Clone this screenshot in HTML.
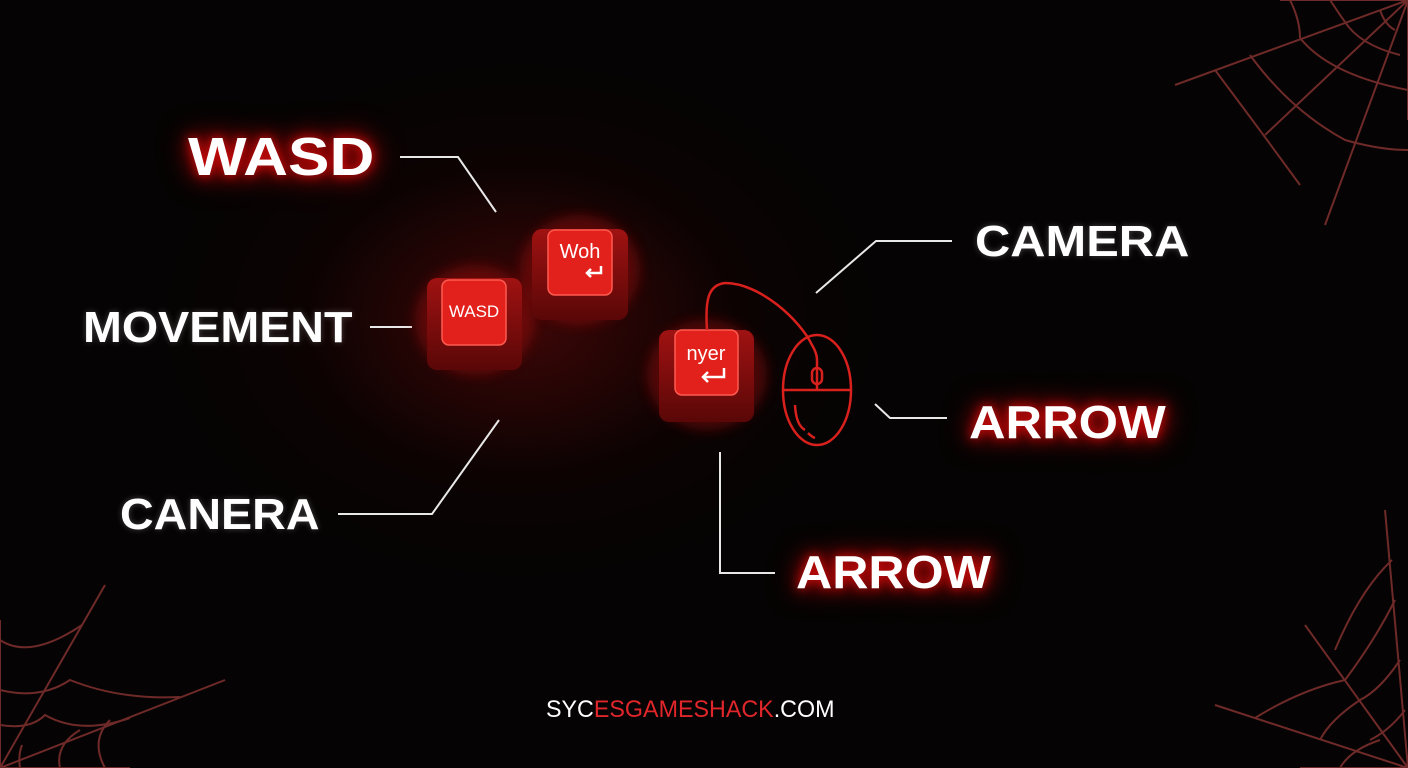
<!DOCTYPE html>
<html><head><style>
body{margin:0;width:1408px;height:768px;overflow:hidden;background:#050303;font-family:"Liberation Sans",sans-serif;}
#bg{position:absolute;left:0;top:0;width:1408px;height:768px;background:radial-gradient(ellipse 360px 260px at 520px 320px,rgba(110,10,10,0.55),rgba(40,0,0,0.2) 60%,rgba(0,0,0,0) 100%);}
.t{position:absolute;color:#fff;font-weight:bold;white-space:nowrap;line-height:1;transform-origin:0 50%;}
.g{text-shadow:0 0 10px #e01010,0 0 20px #b00000,0 0 30px #900000;}
.w{text-shadow:0 0 6px rgba(255,255,255,0.25);}
</style></head><body>
<div id="bg"></div>
<svg width="1408" height="768" style="position:absolute;left:0;top:0">
<defs>
<linearGradient id="kb" x1="0" y1="0" x2="0" y2="1"><stop offset="0" stop-color="#a01212"/><stop offset="1" stop-color="#5a0707"/></linearGradient>
<filter id="gl"><feGaussianBlur stdDeviation="6"/></filter>
</defs>
<g stroke="#6e2a28" stroke-width="2" fill="none">
<path d="M1408 0 L1175 85 M1408 0 L1265 135 M1408 0 L1325 225 M1408 0 L1280 0 M1408 0 L1408 120"/>
<path d="M1380 10 Q1385 25 1395 30 M1345 22 Q1360 45 1400 55 M1300 38 Q1330 75 1408 90 M1250 55 Q1290 110 1345 140 Q1380 150 1408 150 M1215 70 Q1260 130 1300 185 M1330 0 Q1340 15 1345 22 M1290 0 Q1300 20 1300 38"/>
<path d="M0 768 L105 585 M0 768 L225 680 M0 768 L0 620 M0 768 L130 768"/>
<path d="M0 640 Q30 660 82 625 M0 690 Q40 700 70 680 Q120 700 180 697 M0 725 Q30 730 45 715 Q80 735 130 718 M60 768 Q55 745 80 730 M20 768 Q18 755 22 745 M105 768 Q90 740 110 720"/>
<path d="M1408 768 L1385 510 M1408 768 L1305 625 M1408 768 L1215 705 M1408 768 L1300 768"/>
<path d="M1395 600 Q1375 640 1345 680 Q1300 690 1255 718 M1400 660 Q1380 690 1360 700 Q1330 720 1320 740 M1405 710 Q1390 730 1370 740 M1340 768 Q1350 750 1380 740 M1392 560 Q1360 590 1335 650"/>
</g>
<g stroke="#e8e8e8" stroke-width="2" fill="none">
<polyline points="400,157 458,157 496,212"/>
<polyline points="370,327 412,327"/>
<polyline points="338,514 432,514 499,420"/>
<polyline points="952,241 876,241 816,293"/>
<polyline points="875,404 890,418 947,418"/>
<polyline points="720,452 720,573 775,573"/>
</g>
<g>
<ellipse cx="475" cy="320" rx="60" ry="55" fill="#c01010" opacity="0.35" filter="url(#gl)"/>
<ellipse cx="580" cy="270" rx="60" ry="55" fill="#c01010" opacity="0.35" filter="url(#gl)"/>
<ellipse cx="707" cy="375" rx="60" ry="55" fill="#c01010" opacity="0.35" filter="url(#gl)"/>
<rect x="427" y="278" width="95" height="92" rx="10" fill="url(#kb)"/>
<rect x="442" y="280" width="64" height="65" rx="7" fill="#e2201c" stroke="#ff5a50" stroke-width="1.5"/>
<rect x="532" y="229" width="96" height="91" rx="10" fill="url(#kb)"/>
<rect x="548" y="230" width="64" height="65" rx="7" fill="#e2201c" stroke="#ff5a50" stroke-width="1.5"/>
<rect x="659" y="330" width="95" height="92" rx="10" fill="url(#kb)"/>
<rect x="675" y="330" width="63" height="65" rx="7" fill="#e2201c" stroke="#ff5a50" stroke-width="1.5"/>
<text x="474" y="317" fill="#fff" font-size="17" text-anchor="middle" font-family="Liberation Sans">WASD</text>
<text x="580" y="258" fill="#fff" font-size="20" text-anchor="middle" font-family="Liberation Sans">Woh</text>
<path d="M601 266 v7 h-14 m4 -4 l-4 4 4 4" stroke="#fff" stroke-width="2.5" fill="none"/>
<text x="706" y="360" fill="#fff" font-size="20" text-anchor="middle" font-family="Liberation Sans">nyer</text>
<path d="M724 368 v9 h-21 m5 -5 l-5 5 5 5" stroke="#fff" stroke-width="2.5" fill="none"/>
</g>
<g stroke="#d8201c" stroke-width="2.5" fill="none">
<path d="M707 330 C705 300 708 285 725 283 C760 283 800 320 812 345 C818 355 817 360 817 365"/>
<ellipse cx="817" cy="390" rx="34" ry="55"/>
<line x1="784" y1="390" x2="850" y2="390"/>
<line x1="817" y1="365" x2="817" y2="390"/>
<rect x="812" y="368" width="10" height="16" rx="5"/>
<path d="M795 405 Q796 425 805 430 M808 433 Q812 437 815 438"/>
</g>
</svg>
<div class="t g" style="left:188px;top:130px;font-size:54px;transform:scaleX(1.15)">WASD</div>
<div class="t w" style="left:83px;top:306px;font-size:44px;transform:scaleX(1.06)">MOVEMENT</div>
<div class="t w" style="left:120px;top:493px;font-size:44px;transform:scaleX(1.06)">CANERA</div>
<div class="t w" style="left:975px;top:220px;font-size:44px;transform:scaleX(1.11)">CAMERA</div>
<div class="t g" style="left:969px;top:399px;font-size:46px;transform:scaleX(1.10)">ARROW</div>
<div class="t g" style="left:796px;top:549px;font-size:46px;transform:scaleX(1.09)">ARROW</div>
<div class="t" style="left:546px;top:698px;font-size:24px;font-weight:normal;color:#fff;transform:scaleX(0.97)">SYC<span style="color:#e0262a">ESGAMESHACK</span>.COM</div>
</body></html>
